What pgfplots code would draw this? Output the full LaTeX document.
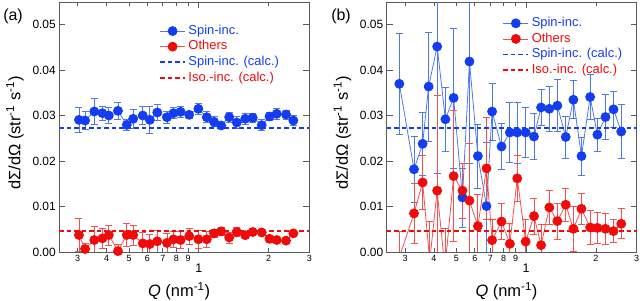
\documentclass[border=0pt]{standalone}
\usepackage{fontspec}
\setmainfont{Liberation Sans}
\usepackage{pgfplots}
\pgfplotsset{compat=1.18}
\usepackage{pgfplotstable}
\definecolor{cblue}{RGB}{20,60,240}
\definecolor{cred}{RGB}{240,10,10}
\definecolor{lblue}{RGB}{80,120,235}
\definecolor{lred}{RGB}{245,80,80}
\definecolor{framegray}{RGB}{90,90,90}

\pgfplotstableread{
q y e
0.304 0.02907 0.0027
0.323 0.02893 0.0020
0.354 0.03091 0.0029
0.384 0.03054 0.0016
0.409 0.03003 0.0018
0.448 0.03106 0.0019
0.489 0.02797 0.0013
0.521 0.02930 0.0021
0.573 0.03003 0.0020
0.615 0.02907 0.0029
0.662 0.03069 0.0018
0.729 0.02966 0.0013
0.778 0.03054 0.0012
0.835 0.03084 0.0012
0.909 0.03018 0.0008
0.996 0.03150 0.0013
1.083 0.02966 0.0012
1.164 0.02863 0.0011
1.249 0.02783 0.0007
1.353 0.02966 0.0011
1.46 0.02849 0.0013
1.587 0.02930 0.0012
1.71 0.02952 0.0010
1.87 0.02790 0.0012
2.02 0.02981 0.0009
2.17 0.03040 0.0012
2.38 0.03025 0.0010
2.56 0.02893 0.0011
}\aspin

\pgfplotstableread{
q y e
0.304 0.00374 0.0037
0.323 0.00066 0.0012
0.354 0.00264 0.0029
0.384 0.0030 0.0023
0.409 0.00374 0.0022
0.448 0.0002 0.0015
0.489 0.00374 0.0025
0.521 0.00374 0.0022
0.573 0.0019 0.0025
0.615 0.00176 0.0022
0.662 0.00235 0.0024
0.729 0.002 0.002
0.778 0.0028 0.0018
0.835 0.00264 0.0018
0.909 0.0035 0.0018
0.996 0.0028 0.002
1.083 0.0028 0.0017
1.164 0.0041 0.0009
1.249 0.00455 0.0009
1.353 0.0032 0.0012
1.46 0.0044 0.001
1.587 0.0037 0.0008
1.71 0.0044 0.0007
1.87 0.0043 0.0007
2.02 0.0029 0.0007
2.17 0.00264 0.0006
2.38 0.0025 0.0006
2.56 0.0041 0.0004
}\aoth

\pgfplotstableread{
q y e
0.2835 0.0370 0.0111
0.328 0.0182 0.0072
0.3573 0.0238 0.007
0.3793 0.0364 0.012
0.4128 0.0452 0.028
0.448 0.0292 0.007
0.4862 0.0339 0.0154
0.5309 0.0120 0.0065
0.5691 0.0419 0.0223
0.6188 0.0211 0.007
0.6742 0.0101 0.014
0.7127 0.0309 0.0063
0.7827 0.0232 0.005
0.8505 0.0263 0.0066
0.915 0.0263 0.0067
0.995 0.0263 0.0055
1.0808 0.0254 0.005
1.1596 0.0318 0.004
1.2591 0.0315 0.005
1.3631 0.0322 0.0057
1.4818 0.0253 0.0046
1.5987 0.0335 0.0042
1.7327 0.0211 0.0042
1.8886 0.0341 0.005
2.0298 0.0258 0.0036
2.1994 0.0297 0.005
2.3823 0.0314 0.004
2.5717 0.0265 0.006
}\bspin

\pgfplotstableread{
q y e
0.2835 -0.0012 0.0057
0.328 0.0085 0.0065
0.3573 0.0153 0.006
0.3835 -0.002 0.0087
0.4128 0.0135 0.021
0.446 -0.0037 0.009
0.4862 0.0167 0.0144
0.5309 0.0135 0.006
0.5691 0.0113 0.0125
0.6188 0.0057 0.007
0.6742 0.0184 0.0112
0.7127 0.0026 0.0045
0.7827 0.0067 0.004
0.8505 0.0018 0.0046
0.915 0.0162 0.005
0.995 0.0023 0.0048
1.0808 0.0079 0.004
1.1596 0.0015 0.0045
1.2591 0.0098 0.0037
1.3631 0.0068 0.004
1.4818 0.0104 0.0037
1.5987 0.0051 0.005
1.7327 0.0095 0.0035
1.8886 0.0054 0.0038
2.0298 0.0053 0.0035
2.1994 0.0051 0.0035
2.3823 0.0046 0.0025
2.5717 0.0062 0.0033
}\both

\begin{document}
\begin{tikzpicture}
\begin{axis}[at={(0bp,0bp)},
    xmode=log, scale only axis, width=250bp, height=250bp,
    xmin=0.25, xmax=3, ymin=0, ymax=0.055,
    axis line style={framegray, line width=0.8bp},
    tick style={framegray, line width=0.8bp},
    tick align=inside,
    major tick length=6bp,
    xtick={1}, xticklabels={1},
    extra x ticks={0.3,0.4,0.5,0.6,0.7,0.8,0.9,2,3},
    extra x tick labels={3,4,5,6,7,8,9,2,3},
    extra x tick style={major tick length=3.5bp,
      xticklabel style={font=\fontsize{9}{9}\selectfont, yshift=8bp}},
    xticklabel style={font=\fontsize{12.5}{12.5}\selectfont, yshift=-8bp},
    ytick={0,0.01,0.02,0.03,0.04,0.05},
    yticklabels={0.00,0.01,0.02,0.03,0.04,0.05},
    yticklabel style={font=\fontsize{12}{12}\selectfont},
    xlabel={\textit{Q} (nm\textsuperscript{-1})},
    ylabel={dΣ/dΩ (str\textsuperscript{-1} s\textsuperscript{-1})},
    label style={font=\fontsize{16.5}{16.5}\selectfont},
    xlabel style={at={(axis description cs:0.479,-0.156)}, anchor=center},
    ylabel style={at={(axis description cs:-0.177,0.476)}, anchor=center},
    legend cell align=left,
    legend style={draw=none, fill=none, inner sep=0pt, outer sep=0pt, row sep=0pt,
      font=\fontsize{13}{13}\selectfont,
      nodes={inner xsep=2.5bp, inner ysep=1.55bp, text height=9.5bp, text depth=3bp},
      at={(rel axis cs:0.3996,0.915)}, anchor=north west},
    legend image code/.code={\draw[mark repeat=2,mark phase=2,#1] plot coordinates {(0bp,0bp) (12.5bp,0bp) (25bp,0bp)};},
  ]
\addplot[lblue, line width=0.8bp, mark=*, mark options={draw=cblue, fill=cblue, mark size=4.5bp, solid},
    error bars/.cd, y dir=both, y explicit,
    error bar style={draw=lblue, color=lblue, line width=0.8bp},
    error mark options={draw=lblue, color=lblue, mark size=3.5bp, line width=0.8bp, rotate=90}]
  table[x=q, y=y, y error=e]{\aspin};
\addlegendentry{\textcolor{cblue}{Spin-inc.}}
\addplot[lred, line width=0.8bp, mark=*, mark options={draw=cred, fill=cred, mark size=4.5bp, solid},
    error bars/.cd, y dir=both, y explicit,
    error bar style={draw=lred, color=lred, line width=0.8bp},
    error mark options={draw=lred, color=lred, mark size=3.5bp, line width=0.8bp, rotate=90}]
  table[x=q, y=y, y error=e]{\aoth};
\addlegendentry{\textcolor{cred}{Others}}
\addplot[cblue, line width=1.8bp, dash pattern=on 4.5bp off 3bp] coordinates {(0.25,0.0272) (3,0.0272)};
\addlegendentry{\textcolor{cblue}{Spin-inc. (calc.)}}
\addplot[cred, line width=1.8bp, dash pattern=on 4.5bp off 3bp] coordinates {(0.25,0.00465) (3,0.00465)};
\addlegendentry{\textcolor{cred}{Iso.-inc. (calc.)}}
\end{axis}
\begin{axis}[at={(327.4bp,0bp)},
    xmode=log, scale only axis, width=250bp, height=250bp,
    xmin=0.25, xmax=3, ymin=0, ymax=0.055,
    axis line style={framegray, line width=0.8bp},
    tick style={framegray, line width=0.8bp},
    tick align=inside,
    major tick length=6bp,
    xtick={1}, xticklabels={1},
    extra x ticks={0.3,0.4,0.5,0.6,0.7,0.8,0.9,2,3},
    extra x tick labels={3,4,5,6,7,8,9,2,3},
    extra x tick style={major tick length=3.5bp,
      xticklabel style={font=\fontsize{9}{9}\selectfont, yshift=8bp}},
    xticklabel style={font=\fontsize{12.5}{12.5}\selectfont, yshift=-8bp},
    ytick={0,0.01,0.02,0.03,0.04,0.05},
    yticklabels={0.00,0.01,0.02,0.03,0.04,0.05},
    yticklabel style={font=\fontsize{12}{12}\selectfont},
    xlabel={\textit{Q} (nm\textsuperscript{-1})},
    ylabel={dΣ/dΩ (str\textsuperscript{-1} s\textsuperscript{-1})},
    label style={font=\fontsize{16.5}{16.5}\selectfont},
    xlabel style={at={(axis description cs:0.479,-0.156)}, anchor=center},
    ylabel style={at={(axis description cs:-0.177,0.476)}, anchor=center},
    legend cell align=left,
    legend style={draw=none, fill=none, inner sep=0pt, outer sep=0pt, row sep=0pt,
      font=\fontsize{13}{13}\selectfont,
      nodes={inner xsep=2.5bp, inner ysep=1.55bp, text height=9.5bp, text depth=3bp},
      at={(rel axis cs:0.463,0.946)}, anchor=north west},
    legend image code/.code={\draw[mark repeat=2,mark phase=2,#1] plot coordinates {(0bp,0bp) (12.5bp,0bp) (25bp,0bp)};},
  ]
\addplot[lblue, line width=0.8bp, mark=*, mark options={draw=cblue, fill=cblue, mark size=4.5bp, solid},
    error bars/.cd, y dir=both, y explicit,
    error bar style={draw=lblue, color=lblue, line width=0.8bp},
    error mark options={draw=lblue, color=lblue, mark size=3.5bp, line width=0.8bp, rotate=90}]
  table[x=q, y=y, y error=e]{\bspin};
\addlegendentry{\textcolor{cblue}{Spin-inc.}}
\addplot[lred, line width=0.8bp, mark=*, mark options={draw=cred, fill=cred, mark size=4.5bp, solid},
    error bars/.cd, y dir=both, y explicit,
    error bar style={draw=lred, color=lred, line width=0.8bp},
    error mark options={draw=lred, color=lred, mark size=3.5bp, line width=0.8bp, rotate=90}]
  table[x=q, y=y, y error=e]{\both};
\addlegendentry{\textcolor{cred}{Others}}
\addplot[cblue, line width=1.8bp, dash pattern=on 4.5bp off 3bp] coordinates {(0.25,0.0272) (3,0.0272)};
\addlegendentry{\textcolor{cblue}{Spin-inc. (calc.)}}
\addplot[cred, line width=1.8bp, dash pattern=on 4.5bp off 3bp] coordinates {(0.25,0.00465) (3,0.00465)};
\addlegendentry{\textcolor{cred}{Iso.-inc. (calc.)}}
\end{axis}
\node[font=\fontsize{16}{16}\selectfont] at (-46.3bp,236bp) {(a)};
\node[font=\fontsize{16}{16}\selectfont] at (281.7bp,236bp) {(b)};
\pgfresetboundingbox
\path (-59.3bp,-49bp) rectangle (580.7bp,252bp);
\end{tikzpicture}
\end{document}
